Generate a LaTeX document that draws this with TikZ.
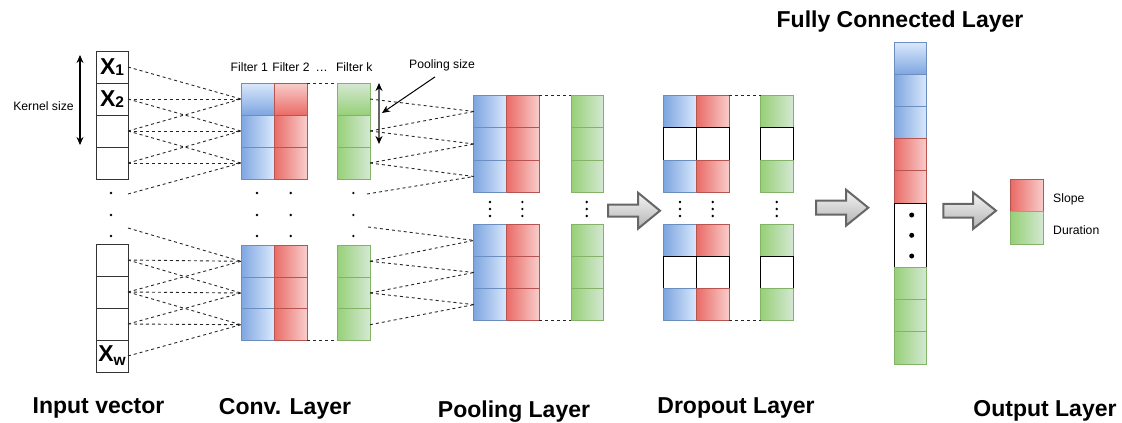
\documentclass[tikz,border=0pt]{standalone}
\usepackage{fontspec}
\setmainfont{Liberation Sans}
\usetikzlibrary{arrows.meta}

\definecolor{bstroke}{HTML}{6C8EBF}
\definecolor{bdark}{HTML}{7EA6E0}
\definecolor{blight}{HTML}{DAE8FC}
\definecolor{rstroke}{HTML}{B85450}
\definecolor{rdark}{HTML}{EA6B66}
\definecolor{rlight}{HTML}{F8CECC}
\definecolor{gstroke}{HTML}{82B366}
\definecolor{gdark}{HTML}{97D077}
\definecolor{glight}{HTML}{D5E8D4}
\definecolor{arrowstroke}{HTML}{666666}
\definecolor{arrowlight}{HTML}{F5F5F5}
\definecolor{arrowdark}{HTML}{B3B3B3}

\tikzset{
  cell/.style={rectangle, line width=1pt, inner sep=0pt, outer sep=0pt,
    minimum width=32.6pt, minimum height=32.3pt},
  bcell/.style={cell, draw=bstroke, left color=bdark, right color=blight},
  rcell/.style={cell, draw=rstroke, left color=rdark, right color=rlight},
  gcell/.style={cell, draw=gstroke, left color=gdark, right color=glight},
  bcellv/.style={cell, draw=bstroke, top color=blight, bottom color=bdark},
  rcellv/.style={cell, draw=rstroke, top color=rlight, bottom color=rdark},
  gcellv/.style={cell, draw=gstroke, top color=glight, bottom color=gdark},
  wcell/.style={cell, draw=black, fill=white},
  incell/.style={cell, draw=black!80, fill=white, minimum width=32pt, minimum height=32pt},
  convsz/.style={minimum width=33pt, minimum height=32pt},
  convszb/.style={minimum width=33pt, minimum height=31.7pt},
  poolsz/.style={minimum width=32.7pt, minimum height=32.5pt},
  poolszb/.style={minimum width=32.7pt, minimum height=32.1pt},
  link/.style={draw=black!85, line width=0.9pt, dash pattern=on 3pt off 3pt},
  dot/.style={circle, fill=black, inner sep=0pt, minimum size=2.6pt},
  bigdot/.style={circle, fill=black, inner sep=0pt, minimum size=5pt},
  title/.style={font=\fontsize{23}{27}\selectfont\bfseries, inner sep=0pt},
  lbl/.style={font=\fontsize{12.2}{15}\selectfont, inner sep=0pt},
  blockarrow/.style={draw=arrowstroke, line width=2pt, top color=arrowlight,
    bottom color=arrowdark, line join=miter},
}

% big X with an index, as printed in the input cells
\newcommand{\xin}[2]{\fontsize{23}{23}\selectfont\bfseries X\raisebox{#2}{\fontsize{15.5}{15.5}\selectfont #1}}

% block arrow: tail x, tip x, head base x, centre y, shaft half height, head half height
\newcommand{\blockarr}[6]{%
  \draw[blockarrow] (#1,{#4-#5}) -- (#3,{#4-#5}) -- (#3,{#4-#6}) -- (#2,#4)
    -- (#3,{#4+#6}) -- (#3,{#4+#5}) -- (#1,{#4+#5}) -- cycle;}

\begin{document}
\begin{tikzpicture}[x=1pt, y=-1pt]
\useasboundingbox (0,0) rectangle (1122,423);

% ---------------- input vector ----------------
\node[incell] (in1) at (112,67) {\xin{1}{-1pt}};
\node[incell] (in2) at (112,99) {\xin{2}{-1pt}};
\node[incell] (in3) at (112,131) {};
\node[incell] (in4) at (112,163) {};
\node[incell] (ib1) at (112,260) {};
\node[incell] (ib2) at (112,292) {};
\node[incell] (ib3) at (112,324) {};
\node[incell] (ib4) at (112,356) {\xin{w}{-4pt}};
\node[dot] (ind1) at (111,193) {};
\node[dot] (ind2) at (111,215) {};
\node[dot] (ind3) at (111,236) {};
\coordinate (inA) at (128,194);
\coordinate (inB) at (128,228);

% kernel size marker
\coordinate (ks1) at (80,55);
\coordinate (ks2) at (80,145);
\draw[line width=1.3pt, {Stealth[length=8pt,width=7pt]}-{Stealth[length=8pt,width=7pt]}] (ks1) -- (ks2);
\node[lbl] (kslbl) at (43.5,106) {Kernel size};

% ---------------- convolution layer ----------------
\node[bcellv, convsz] (cb1) at (257.5,99) {};
\node[bcell, convsz]  (cb2) at (257.5,131) {};
\node[bcell, convsz]  (cb3) at (257.5,163) {};
\node[rcellv, convsz] (cr1) at (290.5,99) {};
\node[rcell, convsz]  (cr2) at (290.5,131) {};
\node[rcell, convsz]  (cr3) at (290.5,163) {};
\node[gcellv, convsz] (cg1) at (353.5,99) {};
\node[gcell, convsz]  (cg2) at (353.5,131) {};
\node[gcell, convsz]  (cg3) at (353.5,163) {};

\node[bcell, convszb] (cbb1) at (257.5,261.3) {};
\node[bcell, convszb] (cbb2) at (257.5,293) {};
\node[bcell, convszb] (cbb3) at (257.5,324.7) {};
\node[rcell, convszb] (crb1) at (290.5,261.3) {};
\node[rcell, convszb] (crb2) at (290.5,293) {};
\node[rcell, convszb] (crb3) at (290.5,324.7) {};
\node[gcell, convszb] (cgb1) at (353.5,261.3) {};
\node[gcell, convszb] (cgb2) at (353.5,293) {};
\node[gcell, convszb] (cgb3) at (353.5,324.7) {};

\foreach \xx/\nm in {257/a, 290.7/b, 353.3/c}{
  \node[dot] (cd\nm1) at (\xx,193) {};
  \node[dot] (cd\nm2) at (\xx,215) {};
  \node[dot] (cd\nm3) at (\xx,236) {};
}
\coordinate (cvA) at (367,194);
\coordinate (cvB) at (368,227);

\node[lbl] (f1) at (249.3,66.7) {Filter 1};
\node[lbl] (f2) at (291,66.7) {Filter 2};
\node[lbl, anchor=base] (fdots) at (321.7,71) {.\kern0.6pt.\kern0.6pt.};
\node[lbl] (fk) at (354.3,66.7) {Filter k};

\draw[link] (cr1.north east) -- (cg1.north west);
\draw[link] (crb3.south east) -- (cgb3.south west);

% pooling size marker
\coordinate (ps1) at (379,83);
\coordinate (ps2) at (379,144);
\draw[line width=1.3pt, draw=black!60, {Stealth[length=8pt,width=7pt,black]}-{Stealth[length=8pt,width=7pt,black]}] (ps1) -- (ps2);
\node[lbl] (pslbl) at (442,65) {Pooling size};
\coordinate (psTip) at (382,113);
\draw[line width=1pt, -{Stealth[length=8pt,width=7pt]}] ([xshift=-7pt,yshift=-6pt]pslbl.south) -- (psTip);

% ---------------- input -> convolution links ----------------
\foreach \a/\b in {in1/cb1, in2/cb1, in3/cb1, in2/cb2, in3/cb2, in4/cb2, in3/cb3, in4/cb3,
                   ib1/cbb1, ib2/cbb1, ib1/cbb2, ib2/cbb2, ib3/cbb2, ib2/cbb3, ib3/cbb3, ib4/cbb3}
  \draw[link] (\a.east) -- (\b.west);
\draw[link] (inA) -- (cb3.west);
\draw[link] (inB) -- (cbb1.west);

% ---------------- pooling layer ----------------
\node[bcell, poolsz] (pb1) at (490.3,111.5) {};
\node[bcell, poolsz] (pb2) at (490.3,144) {};
\node[bcell, poolsz] (pb3) at (490.3,176.5) {};
\node[rcell, poolsz] (pr1) at (523,111.5) {};
\node[rcell, poolsz] (pr2) at (523,144) {};
\node[rcell, poolsz] (pr3) at (523,176.5) {};
\node[gcell, poolsz] (pg1) at (587.5,111.5) {};
\node[gcell, poolsz] (pg2) at (587.5,144) {};
\node[gcell, poolsz] (pg3) at (587.5,176.5) {};

\node[bcell, poolszb] (pbb1) at (490.3,240.4) {};
\node[bcell, poolszb] (pbb2) at (490.3,272.5) {};
\node[bcell, poolszb] (pbb3) at (490.3,304.6) {};
\node[rcell, poolszb] (prb1) at (523,240.4) {};
\node[rcell, poolszb] (prb2) at (523,272.5) {};
\node[rcell, poolszb] (prb3) at (523,304.6) {};
\node[gcell, poolszb] (pgb1) at (587.5,240.4) {};
\node[gcell, poolszb] (pgb2) at (587.5,272.5) {};
\node[gcell, poolszb] (pgb3) at (587.5,304.6) {};

\foreach \xx/\nm in {490/a, 522.3/b, 586.7/c}{
  \node[dot] (pd\nm1) at (\xx,202) {};
  \node[dot] (pd\nm2) at (\xx,209) {};
  \node[dot] (pd\nm3) at (\xx,216) {};
}
\draw[link] (pr1.north east) -- (pg1.north west);
\draw[link] (prb3.south east) -- (pgb3.south west);

% ---------------- convolution -> pooling links ----------------
\foreach \a/\b in {cg1/pb1, cg2/pb1, cg2/pb2, cg3/pb2, cg3/pb3,
                   cgb1/pbb1, cgb1/pbb2, cgb2/pbb2, cgb2/pbb3, cgb3/pbb3}
  \draw[link] (\a.east) -- (\b.west);
\draw[link] (cvA) -- (pb3.west);
\draw[link] (cvB) -- (pbb1.west);

% ---------------- dropout layer ----------------
\node[bcell, poolsz] (db1) at (680.3,111.5) {};
\node[wcell, poolsz] (db2) at (680.3,144) {};
\node[bcell, poolsz] (db3) at (680.3,176.5) {};
\node[rcell, poolsz] (dr1) at (713,111.5) {};
\node[wcell, poolsz] (dr2) at (713,144) {};
\node[rcell, poolsz] (dr3) at (713,176.5) {};
\node[gcell, poolsz] (dg1) at (777,111.5) {};
\node[wcell, poolsz] (dg2) at (777,144) {};
\node[gcell, poolsz] (dg3) at (777,176.5) {};

\node[bcell, poolszb] (dbb1) at (680.3,240.4) {};
\node[wcell, poolszb] (dbb2) at (680.3,272.5) {};
\node[bcell, poolszb] (dbb3) at (680.3,304.6) {};
\node[rcell, poolszb] (drb1) at (713,240.4) {};
\node[wcell, poolszb] (drb2) at (713,272.5) {};
\node[rcell, poolszb] (drb3) at (713,304.6) {};
\node[gcell, poolszb] (dgb1) at (777,240.4) {};
\node[wcell, poolszb] (dgb2) at (777,272.5) {};
\node[gcell, poolszb] (dgb3) at (777,304.6) {};

\foreach \xx/\nm in {680/a, 712.7/b, 776.7/c}{
  \node[dot] (dd\nm1) at (\xx,202) {};
  \node[dot] (dd\nm2) at (\xx,209) {};
  \node[dot] (dd\nm3) at (\xx,216) {};
}
\draw[link] (dr1.north east) -- (dg1.north west);
\draw[link] (drb3.south east) -- (dgb3.south west);

% ---------------- fully connected layer ----------------
\begin{scope}[every node/.append style={minimum width=32.4pt, minimum height=32.17pt}]
\node[bcellv] (fc1) at (910.5,58.4) {};
\node[bcell]  (fc2) at (910.5,90.6) {};
\node[bcell]  (fc3) at (910.5,122.8) {};
\node[rcell]  (fc4) at (910.5,154.9) {};
\node[rcell]  (fc5) at (910.5,187.1) {};
\node[wcell, minimum height=64.3pt] (fc6) at (910.5,235.3) {};
\node[gcell]  (fc8) at (910.5,283.6) {};
\node[gcell]  (fc9) at (910.5,315.8) {};
\node[gcell]  (fc10) at (910.5,347.9) {};
\end{scope}
\node[bigdot] (fcd1) at (911.7,215) {};
\node[bigdot] (fcd2) at (911.7,235.3) {};
\node[bigdot] (fcd3) at (911.7,256) {};

% ---------------- output layer ----------------
\node[rcell, poolsz] (oR) at (1027.3,195.3) {};
\node[gcell, poolsz] (oG) at (1027.3,227.8) {};
\node[lbl, anchor=west] (slope) at (1053,199) {Slope};
\node[lbl, anchor=west] (dur) at (1053,229.7) {Duration};

% ---------------- block arrows between stages ----------------
\blockarr{608}{660}{638}{210.7}{6}{18}
\blockarr{816}{868.3}{846}{207.7}{7}{18}
\blockarr{943.3}{996}{973}{210.7}{6.8}{18.3}

% ---------------- stage titles ----------------
\node[title] (tfc) at (900,22) {Fully Connected Layer};
\node[title] (tin) at (98.5,407.5) {Input vector};
\node[title] (tconv) at (285,408.5) {Conv. Layer};
\node[title] (tpool) at (514,411.5) {Pooling Layer};
\node[title] (tdrop) at (736,408) {Dropout Layer};
\node[title] (tout) at (1045,410.5) {Output Layer};
\end{tikzpicture}
\end{document}
